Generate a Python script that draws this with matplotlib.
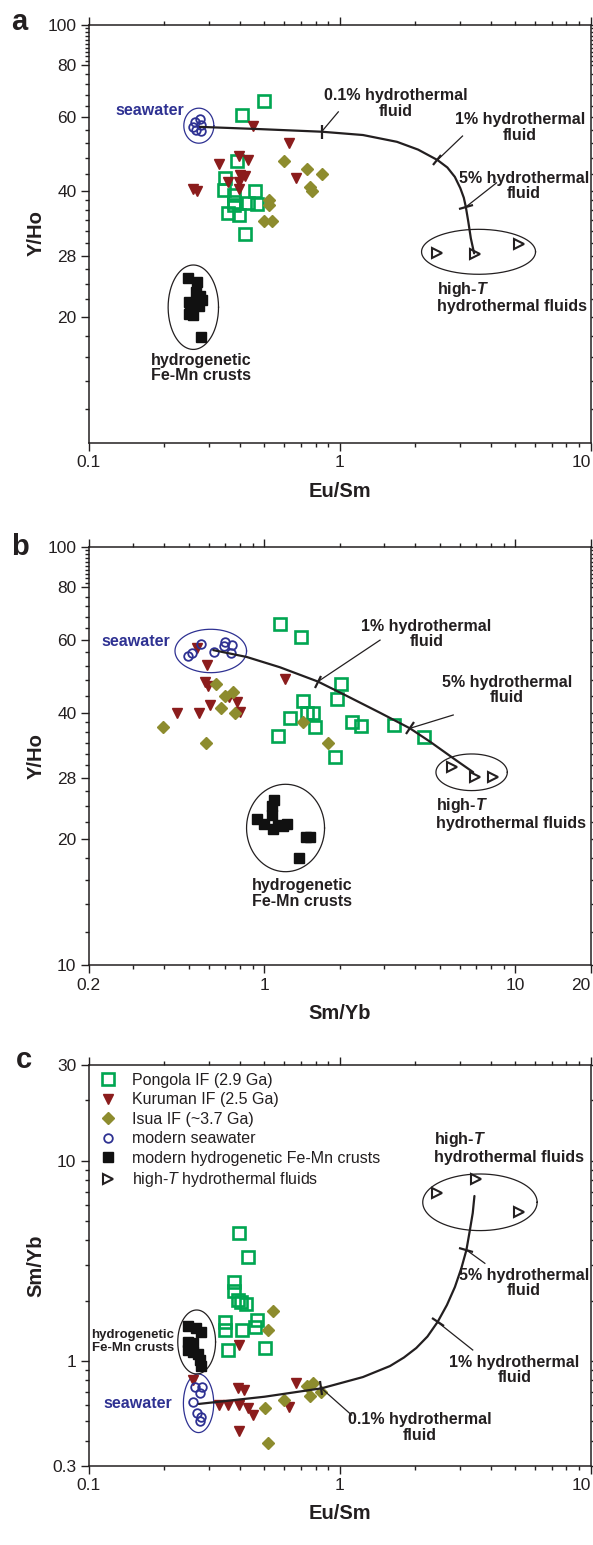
import matplotlib
matplotlib.use('Agg')
import matplotlib.pyplot as plt
import numpy as np
from matplotlib.markers import MarkerStyle
from matplotlib.transforms import Affine2D
from matplotlib.ticker import FixedLocator, LogLocator, NullFormatter

plt.rcParams['font.family'] = ['Liberation Sans', 'DejaVu Sans']
plt.rcParams['mathtext.fontset'] = 'custom'
plt.rcParams['mathtext.rm'] = 'Liberation Sans'
plt.rcParams['mathtext.it'] = 'Liberation Sans:italic'
plt.rcParams['mathtext.bf'] = 'Liberation Sans:bold:italic'

# ---------------- panel a : Y/Ho vs Eu/Sm ----------------
pong_a_x = [0.498, 0.408, 0.388, 0.349, 0.345, 0.378, 0.459, 0.378, 0.378, 0.429, 0.468, 0.357, 0.397, 0.418]
pong_a_y = [65.5, 60.8, 47.1, 42.9, 40.2, 39.1, 40.0, 37.7, 37.0, 37.4, 37.2, 35.5, 35.0, 31.5]
kuru_a_x = [0.449, 0.626, 0.397, 0.431, 0.329, 0.400, 0.418, 0.668, 0.357, 0.397, 0.397, 0.259, 0.270]
kuru_a_y = [57.2, 52.2, 48.4, 47.4, 46.5, 43.7, 43.5, 42.9, 42.0, 42.1, 40.4, 40.4, 40.0]
isua_a_x = [0.598, 0.737, 0.848, 0.759, 0.776, 0.520, 0.520, 0.498, 0.539]
isua_a_y = [47.1, 45.0, 43.9, 40.9, 40.0, 38.0, 37.0, 33.9, 33.9]
sea_a_x = [0.264, 0.277, 0.260, 0.281, 0.267, 0.279]
sea_a_y = [58.6, 59.3, 57.0, 57.5, 55.9, 55.7]
crust_a_x = [0.248, 0.269, 0.267, 0.277, 0.282, 0.274, 0.250, 0.253, 0.250, 0.260, 0.281]
crust_a_y = [24.8, 24.2, 22.9, 22.4, 21.9, 21.2, 21.7, 20.9, 20.3, 20.2, 17.9]
hot_a_x = [2.43, 3.45, 5.18]
hot_a_y = [28.4, 28.2, 29.8]
mix_a_x = [0.277, 0.480, 0.846, 1.236, 1.689, 2.05, 2.449, 2.681, 2.872, 3.020, 3.119, 3.177, 3.251, 3.326, 3.428]
mix_a_y = [56.9, 56.2, 55.4, 54.4, 52.4, 50.2, 47.4, 45.5, 43.2, 40.6, 38.5, 36.6, 33.7, 30.8, 28.35]

# ---------------- panel b : Y/Ho vs Sm/Yb ----------------
pong_b_x = [1.153, 1.405, 2.024, 1.420, 1.941, 1.266, 1.480, 1.565, 1.587, 1.133, 2.228, 2.432, 3.300, 4.310, 1.907]
pong_b_y = [65.3, 60.7, 47.0, 42.8, 43.2, 39.0, 40.0, 40.0, 37.0, 35.3, 38.2, 37.3, 37.4, 35.0, 31.5]
kuru_b_x = [0.538, 0.589, 0.580, 0.595, 1.209, 0.447, 0.549, 0.608, 0.725, 0.780, 0.800]
kuru_b_y = [57.2, 52.1, 47.6, 46.5, 48.4, 40.1, 40.1, 41.8, 43.7, 42.6, 40.3]
isua_b_x = [0.642, 0.748, 0.697, 0.670, 0.764, 0.394, 0.584, 1.421, 1.798]
isua_b_y = [46.9, 45.0, 44.0, 41.1, 40.0, 37.0, 34.0, 38.0, 34.0]
sea_b_x = [0.498, 0.514, 0.558, 0.630, 0.697, 0.741, 0.693, 0.734]
sea_b_y = [54.8, 55.8, 58.5, 56.1, 59.3, 58.2, 57.9, 55.8]
crust_b_x = [1.094, 1.069, 1.069, 0.937, 0.997, 1.084, 1.133, 1.235, 1.460, 1.521, 1.380, 1.187]
crust_b_y = [24.8, 24.0, 22.8, 22.4, 21.7, 21.2, 21.6, 21.7, 20.2, 20.2, 18.0, 21.5]
hot_b_x = [5.58, 6.91, 8.17]
hot_b_y = [29.7, 28.2, 28.1]
mix_b_x = [0.626, 0.851, 1.154, 1.636, 2.129, 2.889, 3.804, 4.571, 5.84, 6.80]
mix_b_y = [56.6, 54.5, 51.5, 47.6, 44.0, 40.1, 36.8, 34.2, 30.8, 28.9]

# ---------------- panel c : Sm/Yb vs Eu/Sm ----------------
pong_c_x = [0.396, 0.429, 0.380, 0.380, 0.391, 0.422, 0.404, 0.349, 0.349, 0.407, 0.468, 0.460, 0.358, 0.502]
pong_c_y = [4.34, 3.31, 2.49, 2.23, 2.01, 1.92, 1.96, 1.57, 1.43, 1.42, 1.60, 1.48, 1.13, 1.16]
kuru_c_x = [0.396, 0.260, 0.391, 0.415, 0.669, 0.329, 0.357, 0.396, 0.429, 0.449, 0.629, 0.396]
kuru_c_y = [1.20, 0.803, 0.730, 0.716, 0.773, 0.603, 0.603, 0.603, 0.580, 0.537, 0.587, 0.449]
isua_c_x = [0.542, 0.519, 0.502, 0.601, 0.740, 0.783, 0.761, 0.845, 0.519]
isua_c_y = [1.78, 1.42, 0.580, 0.638, 0.750, 0.773, 0.668, 0.702, 0.388]
sea_c_x = [0.264, 0.283, 0.278, 0.261, 0.269, 0.280, 0.278]
sea_c_y = [0.744, 0.744, 0.690, 0.626, 0.551, 0.527, 0.503]
crust_c_x = [0.248, 0.267, 0.281, 0.248, 0.260, 0.248, 0.261, 0.271, 0.276, 0.281]
crust_c_y = [1.49, 1.46, 1.39, 1.25, 1.23, 1.13, 1.11, 1.08, 1.01, 0.943]
hot_c_x = [2.43, 3.48, 5.17]
hot_c_y = [6.87, 8.09, 5.52]
mix_c_x = [0.274, 0.502, 0.845, 1.236, 1.584, 1.800, 2.016, 2.234, 2.451, 2.671, 2.874, 3.051, 3.194, 3.298,
           3.385, 3.438]
mix_c_y = [0.610, 0.663, 0.730, 0.831, 0.943, 1.040, 1.160, 1.324, 1.564, 1.902, 2.339, 2.910, 3.579, 4.503,
           5.476, 6.656]

legend_labels = ['Pongola IF (2.9 Ga)', 'Kuruman IF (2.5 Ga)', 'Isua IF (~3.7 Ga)',
                 'modern seawater', 'modern hydrogenetic Fe-Mn crusts',
                 r'high-$\mathit{T}$ hydrothermal fluids']

GREEN = '#00a651'
RED = '#8b1c1c'
OLIVE = '#8d8c2e'
BLUE = '#2e3192'
INK = '#231f20'
LBL = 11.5


def log_ellipse(ax, cx, cy, rx, ry, color=INK):
    # ellipse in log space: centre in data units, half axes in decades
    t = np.linspace(0, 2 * np.pi, 240)
    ax.plot(10 ** (np.log10(cx) + rx * np.cos(t)), 10 ** (np.log10(cy) + ry * np.sin(t)),
            color=color, lw=0.9, zorder=2)


def curve_tick(ax, x, y, angle):
    m = MarkerStyle('|', transform=Affine2D().rotate_deg(angle))
    ax.plot([x], [y], marker=m, ms=10, mew=1.6, color=INK, zorder=6)


def leader(ax, x0, y0, x1, y1):
    ax.plot([x0, x1], [y0, y1], color=INK, lw=0.9, zorder=6)


def draw_points(ax, pong, kuru, isua, sea, crust, hot, mix, labels=None):
    lab = labels if labels else [None] * 6
    ax.plot(*pong, 's', ms=8.5, mfc='none', mec=GREEN, mew=1.9, label=lab[0], zorder=3)
    ax.plot(*kuru, 'v', ms=7.5, color=RED, mec=RED, label=lab[1], zorder=3)
    ax.plot(*isua, 'D', ms=6, color=OLIVE, mec=OLIVE, label=lab[2], zorder=3)
    ax.plot(*sea, 'o', ms=6.2, mfc='none', mec=BLUE, mew=1.3, label=lab[3], zorder=4)
    ax.plot(*crust, 's', ms=6.5, color='#111111', label=lab[4], zorder=3)
    ax.plot(*hot, '>', ms=7.5, mfc='white', mec=INK, mew=1.5, label=lab[5], zorder=4)
    ax.plot(*mix, color=INK, lw=1.6, zorder=5, solid_joinstyle='round', solid_capstyle='round')


def style(ax, xlim, ylim, xmaj, xlab, ymaj, ylab, yminor):
    ax.set_xscale('log')
    ax.set_yscale('log')
    ax.set_xlim(*xlim)
    ax.set_ylim(*ylim)
    ax.set_xticks(xmaj)
    ax.set_xticklabels(xlab)
    ax.set_yticks(ymaj)
    ax.set_yticklabels(ylab)
    ax.xaxis.set_minor_locator(LogLocator(base=10, subs=np.arange(2, 10), numticks=20))
    ax.xaxis.set_minor_formatter(NullFormatter())
    if yminor is None:
        ax.yaxis.set_minor_locator(LogLocator(base=10, subs=np.arange(2, 10), numticks=20))
    else:
        ax.yaxis.set_minor_locator(FixedLocator(yminor))
    ax.yaxis.set_minor_formatter(NullFormatter())
    ax.tick_params(which='both', direction='out', top=True, right=True,
                   color=INK, labelcolor=INK, labelsize=12.5, width=1.0)
    ax.tick_params(which='major', length=5.5)
    ax.tick_params(which='minor', length=3.2)
    for s in ax.spines.values():
        s.set_linewidth(1.1)
        s.set_color(INK)
    # last x label sits flush against the right spine
    ax.get_xticklabels()[-1].set_horizontalalignment('right')


yminor_ab = list(range(12, 20, 2)) + list(range(22, 40, 2)) + list(range(44, 80, 4)) + list(range(82, 100, 2))

fig = plt.figure(figsize=(5.93, 15.45), dpi=100)
left, width = 0.1499, 0.8464
ax_a = fig.add_axes([left, 0.71359, width, 0.27055])
ax_b = fig.add_axes([left, 0.37540, width, 0.27074])
ax_c = fig.add_axes([left, 0.05133, width, 0.25935])

# ---------- a ----------
ax = ax_a
draw_points(ax, (pong_a_x, pong_a_y), (kuru_a_x, kuru_a_y), (isua_a_x, isua_a_y),
            (sea_a_x, sea_a_y), (crust_a_x, crust_a_y), (hot_a_x, hot_a_y), (mix_a_x, mix_a_y))
log_ellipse(ax, 0.2742, 57.27, 0.0598, 0.0419, color=BLUE)
log_ellipse(ax, 0.2607, 21.07, 0.1004, 0.101)
log_ellipse(ax, 3.570, 28.59, 0.2271, 0.0538)
curve_tick(ax, 0.846, 55.4, 0)
curve_tick(ax, 2.449, 47.4, -38)
curve_tick(ax, 3.177, 36.6, -74)
leader(ax, 0.986, 61.8, 0.846, 55.4)
leader(ax, 3.082, 54.1, 2.449, 47.4)
leader(ax, 4.21, 41.8, 3.177, 36.6)
ax.text(0.239, 62.2, 'seawater', color=BLUE, fontsize=LBL, weight='bold', ha='right', va='center')
ax.text(1.671, 64.7, '0.1% hydrothermal\nfluid', fontsize=LBL, weight='bold', ha='center', va='center',
        color=INK, linespacing=1.05)
ax.text(5.21, 56.7, '1% hydrothermal\nfluid', fontsize=LBL, weight='bold', ha='center', va='center',
        color=INK, linespacing=1.05)
ax.text(5.41, 41.1, '5% hydrothermal\nfluid', fontsize=LBL, weight='bold', ha='center', va='center',
        color=INK, linespacing=1.05)
ax.text(2.442, 24.5, 'high-$\\mathbf{T}$\nhydrothermal fluids', fontsize=LBL, weight='bold', ha='left',
        va='top', color=INK, linespacing=1.05)
ax.text(0.279, 16.4, 'hydrogenetic\nFe-Mn crusts', fontsize=LBL, weight='bold', ha='center', va='top',
        color=INK, linespacing=1.05)
style(ax, (0.1, 10), (10, 100), [0.1, 1, 10], ['0.1', '1', '10'],
      [20, 28, 40, 60, 80, 100], ['20', '28', '40', '60', '80', '100'], yminor_ab)
ax.set_xlabel('Eu/Sm', fontsize=14.5, weight='bold', color=INK)
ax.set_ylabel('Y/Ho', fontsize=14.5, weight='bold', color=INK)
ax.xaxis.set_label_coords(0.5, -0.095)
ax.yaxis.set_label_coords(-0.086, 0.5)

# ---------- b ----------
ax = ax_b
draw_points(ax, (pong_b_x, pong_b_y), (kuru_b_x, kuru_b_y), (isua_b_x, isua_b_y),
            (sea_b_x, sea_b_y), (crust_b_x, crust_b_y), (hot_b_x, hot_b_y), (mix_b_x, mix_b_y))
log_ellipse(ax, 0.6119, 56.33, 0.1426, 0.0519, color=BLUE)
log_ellipse(ax, 1.2152, 21.26, 0.1554, 0.1045)
log_ellipse(ax, 6.701, 28.89, 0.1422, 0.0438)
curve_tick(ax, 1.636, 47.6, -22)
curve_tick(ax, 3.804, 36.8, -32)
leader(ax, 2.892, 59.8, 1.636, 47.6)
leader(ax, 5.66, 39.6, 3.804, 36.8)
ax.text(0.4207, 59.5, 'seawater', color=BLUE, fontsize=LBL, weight='bold', ha='right', va='center')
ax.text(4.43, 61.8, '1% hydrothermal\nfluid', fontsize=LBL, weight='bold', ha='center', va='center',
        color=INK, linespacing=1.05)
ax.text(9.24, 45.4, '5% hydrothermal\nfluid', fontsize=LBL, weight='bold', ha='center', va='center',
        color=INK, linespacing=1.05)
ax.text(4.83, 25.35, 'high-$\\mathbf{T}$\nhydrothermal fluids', fontsize=LBL, weight='bold', ha='left',
        va='top', color=INK, linespacing=1.05)
ax.text(1.415, 16.1, 'hydrogenetic\nFe-Mn crusts', fontsize=LBL, weight='bold', ha='center', va='top',
        color=INK, linespacing=1.05)
style(ax, (0.2, 20), (10, 100), [0.2, 1, 10, 20], ['0.2', '1', '10', '20'],
      [10, 20, 28, 40, 60, 80, 100], ['10', '20', '28', '40', '60', '80', '100'], yminor_ab)
ax.set_xlabel('Sm/Yb', fontsize=14.5, weight='bold', color=INK)
ax.set_ylabel('Y/Ho', fontsize=14.5, weight='bold', color=INK)
ax.xaxis.set_label_coords(0.5, -0.093)
ax.yaxis.set_label_coords(-0.086, 0.5)

# ---------- c ----------
ax = ax_c
draw_points(ax, (pong_c_x, pong_c_y), (kuru_c_x, kuru_c_y), (isua_c_x, isua_c_y),
            (sea_c_x, sea_c_y), (crust_c_x, crust_c_y), (hot_c_x, hot_c_y), (mix_c_x, mix_c_y),
            labels=legend_labels)
log_ellipse(ax, 0.2735, 0.6146, 0.0604, 0.1462, color=BLUE)
log_ellipse(ax, 0.2688, 1.2434, 0.0753, 0.1597)
log_ellipse(ax, 3.616, 6.192, 0.2279, 0.1413)
curve_tick(ax, 0.845, 0.730, 11)
curve_tick(ax, 2.451, 1.564, 58)
curve_tick(ax, 3.194, 3.579, 74)
leader(ax, 1.114, 0.537, 0.845, 0.730)
leader(ax, 3.385, 1.134, 2.451, 1.564)
leader(ax, 3.783, 3.071, 3.194, 3.579)
ax.text(0.2143, 0.615, 'seawater', color=BLUE, fontsize=LBL, weight='bold', ha='right', va='center')
ax.text(0.2183, 1.253, 'hydrogenetic\nFe-Mn crusts', fontsize=9.5, weight='bold', ha='right', va='center',
        color=INK, linespacing=1.1)
ax.text(2.085, 0.4655, '0.1% hydrothermal\nfluid', fontsize=LBL, weight='bold', ha='center', va='center',
        color=INK, linespacing=1.05)
ax.text(4.958, 0.901, '1% hydrothermal\nfluid', fontsize=LBL, weight='bold', ha='center', va='center',
        color=INK, linespacing=1.05)
ax.text(5.404, 2.449, '5% hydrothermal\nfluid', fontsize=LBL, weight='bold', ha='center', va='center',
        color=INK, linespacing=1.05)
ax.text(2.375, 14.21, 'high-$\\mathbf{T}$\nhydrothermal fluids', fontsize=LBL, weight='bold', ha='left',
        va='top', color=INK, linespacing=1.05)
style(ax, (0.1, 10), (0.3, 30), [0.1, 1, 10], ['0.1', '1', '10'],
      [0.3, 1, 10, 30], ['0.3', '1', '10', '30'], None)
ax.set_xlabel('Eu/Sm', fontsize=14.5, weight='bold', color=INK)
ax.set_ylabel('Sm/Yb', fontsize=14.5, weight='bold', color=INK)
ax.xaxis.set_label_coords(0.5, -0.096)
ax.yaxis.set_label_coords(-0.086, 0.5)
ax.legend(loc='upper left', bbox_to_anchor=(0, 1), borderaxespad=0, borderpad=0.5, frameon=False,
          handlelength=1.36, handletextpad=0.86, labelspacing=0.28, markerscale=1.0,
          prop={'size': 11.5}, labelcolor=INK)

# panel letters
fig.text(11 / 593, 1 - 30 / 1545, 'a', fontsize=21, weight='bold', va='baseline', color=INK)
fig.text(11 / 593, 1 - 555 / 1545, 'b', fontsize=21, weight='bold', va='baseline', color=INK)
fig.text(16 / 593, 1 - 1068 / 1545, 'c', fontsize=21, weight='bold', va='baseline', color=INK)

fig.savefig('out.png', dpi=100)
